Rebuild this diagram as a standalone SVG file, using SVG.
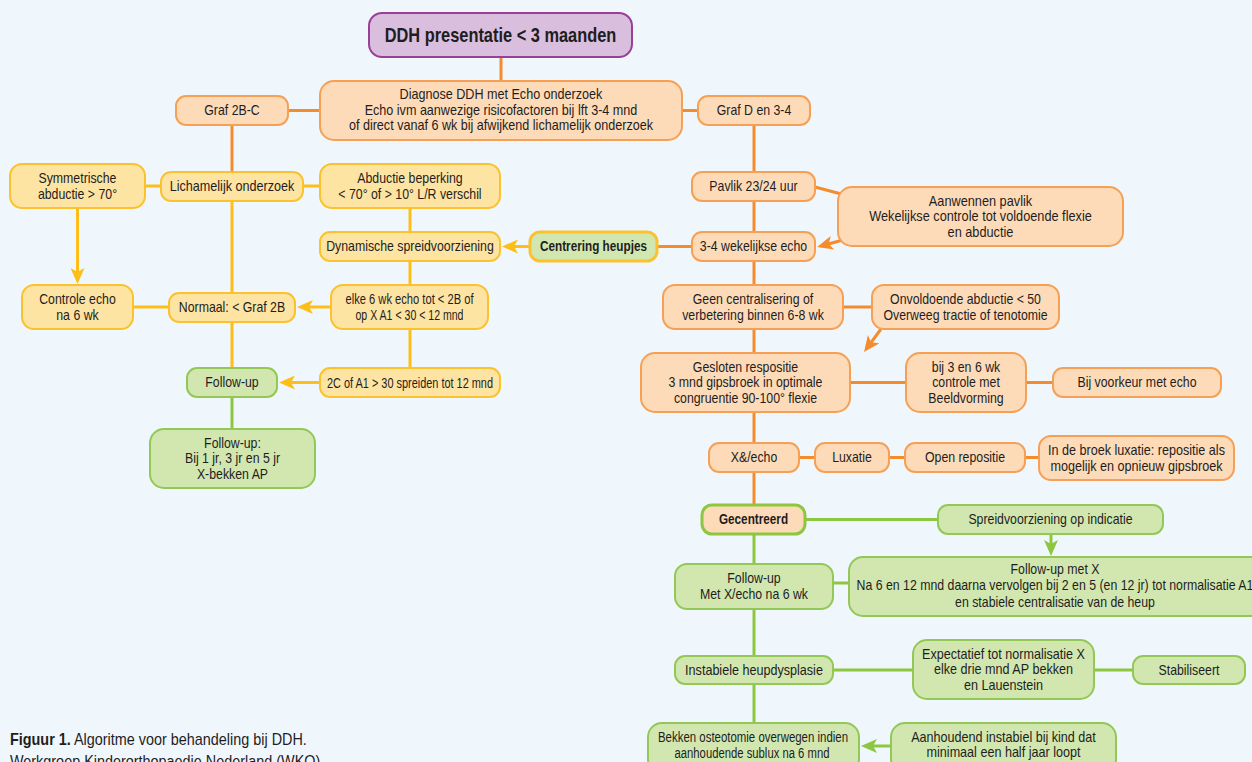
<svg xmlns="http://www.w3.org/2000/svg" width="1252" height="762" viewBox="0 0 1252 762">
<style>
text{font-family:'Liberation Sans',Arial,sans-serif;font-size:14px;fill:#1f1d1d;text-anchor:middle}
.o{fill:#FDDBB8;stroke:#F5A055;stroke-width:2}
.y{fill:#FEE4A2;stroke:#FCC22E;stroke-width:2}
.g{fill:#D2E7B0;stroke:#93C856;stroke-width:2}
.p{fill:#D9BEDD;stroke:#9A3F98;stroke-width:2}
.lo{stroke:#F48C2E;stroke-width:3;fill:none}
.ly{stroke:#FDBF17;stroke-width:3;fill:none}
.lg{stroke:#8DC63F;stroke-width:3;fill:none}
.b{font-weight:bold}
</style>
<defs>
<marker id="ao" markerUnits="userSpaceOnUse" markerWidth="16" markerHeight="14" refX="12" refY="7" orient="auto"><path d="M0,0 L16,7 L0,14 L4,7 z" fill="#F48C2E"/></marker>
<marker id="ay" markerUnits="userSpaceOnUse" markerWidth="16" markerHeight="14" refX="12" refY="7" orient="auto"><path d="M0,0 L16,7 L0,14 L4,7 z" fill="#FDBF17"/></marker>
<marker id="ag" markerUnits="userSpaceOnUse" markerWidth="16" markerHeight="14" refX="12" refY="7" orient="auto"><path d="M0,0 L16,7 L0,14 L4,7 z" fill="#8DC63F"/></marker>
</defs>
<rect width="1252" height="762" fill="#EFF7FD"/>
<g id="connectors">
<path class="lo" d="M501,57V81"/>
<path class="lo" d="M288,110.5H320"/>
<path class="lo" d="M682,110.5H698"/>
<path class="lo" d="M232,125V172"/>
<path class="lo" d="M754,125V172"/>
<path class="lo" d="M754,201V232"/>
<path class="lo" d="M815,187L845,195"/>
<path class="lo" d="M843,240L821,246" marker-end="url(#ao)"/>
<path class="lo" d="M692,246.5H657"/>
<path class="lo" d="M754,261V285"/>
<path class="lo" d="M843,307H872"/>
<path class="lo" d="M881,329L866.4,348.8" marker-end="url(#ao)"/>
<path class="lo" d="M754,329V353"/>
<path class="lo" d="M850,382.5H906"/>
<path class="lo" d="M1026,382.5H1053"/>
<path class="lo" d="M754,412V443"/>
<path class="lo" d="M799,457.5H815"/>
<path class="lo" d="M889,457.5H905"/>
<path class="lo" d="M1025,457.5H1039"/>
<path class="lo" d="M754,472V505"/>
<path class="lg" d="M805,519.5H938"/>
<path class="lg" d="M1051,534V552" marker-end="url(#ag)"/>
<path class="lg" d="M754,534V564"/>
<path class="lg" d="M833,583H849"/>
<path class="lg" d="M754,609V656"/>
<path class="lg" d="M833,670H913"/>
<path class="lg" d="M1094,670H1133"/>
<path class="lg" d="M754,684V723"/>
<path class="lg" d="M891,746H865" marker-end="url(#ag)"/>
<path class="lg" d="M232,397V429"/>
<path class="ly" d="M145,186H161"/>
<path class="ly" d="M303,186H320"/>
<path class="ly" d="M77.5,208V280" marker-end="url(#ay)"/>
<path class="ly" d="M232,201V293"/>
<path class="ly" d="M133,307H169"/>
<path class="ly" d="M410,208V232"/>
<path class="ly" d="M530,246.5H506" marker-end="url(#ay)"/>
<path class="ly" d="M410,261V285"/>
<path class="ly" d="M331,307H301" marker-end="url(#ay)"/>
<path class="ly" d="M410,329V368"/>
<path class="ly" d="M320,382.5H283" marker-end="url(#ay)"/>
<path class="ly" d="M232,321V368"/>
</g>
<g id="title"><rect class="p" x="369" y="13" width="263" height="44" rx="13"/><text class="b" x="500.5" y="42" style="font-size:20px" transform="matrix(0.82,0,0,1,90.09,0)">DDH presentatie &lt; 3 maanden</text></g>
<g id="diag"><rect class="o" x="320" y="81" width="362" height="59" rx="14"/><g transform="matrix(0.9,0,0,1,50.1,0)"><text x="501" y="99.5">Diagnose DDH met Echo onderzoek</text><text x="501" y="115">Echo ivm aanwezige risicofactoren bij lft 3-4 mnd</text><text x="501" y="130.5">of direct vanaf 6 wk bij afwijkend lichamelijk onderzoek</text></g></g>
<g id="graf2bc"><rect class="o" x="176" y="96" width="112" height="29" rx="10"/><text x="232" y="115.5" transform="matrix(0.88,0,0,1,27.84,0)">Graf 2B-C</text></g>
<g id="grafD"><rect class="o" x="698" y="96" width="112" height="29" rx="10"/><text x="754" y="115.5" transform="matrix(0.88,0,0,1,90.48,0)">Graf D en 3-4</text></g>
<g id="symm"><rect class="y" x="10" y="164" width="135" height="44" rx="12"/><g transform="matrix(0.88,0,0,1,9.3,0)"><text x="77.5" y="183">Symmetrische</text><text x="77.5" y="199">abductie &gt; 70°</text></g></g>
<g id="lich"><rect class="y" x="161" y="172" width="142" height="29" rx="10"/><text x="232" y="191.5" transform="matrix(0.9,0,0,1,23.2,0)">Lichamelijk onderzoek</text></g>
<g id="abd"><rect class="y" x="320" y="164" width="180" height="44" rx="12"/><g transform="matrix(0.88,0,0,1,49.2,0)"><text x="410" y="183">Abductie beperking</text><text x="410" y="199">&lt; 70° of &gt; 10° L/R verschil</text></g></g>
<g id="pavlik"><rect class="o" x="692" y="172" width="123" height="29" rx="10"/><text x="753.5" y="191.5" transform="matrix(0.88,0,0,1,90.42,0)">Pavlik 23/24 uur</text></g>
<g id="aanw"><rect class="o" x="838" y="187" width="285" height="59" rx="14"/><g transform="matrix(0.91,0,0,1,88.245,0)"><text x="980.5" y="206">Aanwennen pavlik</text><text x="980.5" y="221.5">Wekelijkse controle tot voldoende flexie</text><text x="980.5" y="237">en abductie</text></g></g>
<g id="dyn"><rect class="y" x="320" y="232" width="180" height="29" rx="10"/><text x="410" y="251.5" transform="matrix(0.88,0,0,1,49.2,0)">Dynamische spreidvoorziening</text></g>
<g id="centr"><rect x="530" y="232" width="127" height="29" rx="10" fill="#D2E7B0" stroke="#FCC22E" stroke-width="3"/><text class="b" x="593.5" y="251.5" transform="matrix(0.84,0,0,1,94.96,0)">Centrering heupjes</text></g>
<g id="echo34"><rect class="o" x="692" y="232" width="123" height="29" rx="10"/><text x="753.5" y="251.5" transform="matrix(0.88,0,0,1,90.42,0)">3-4 wekelijkse echo</text></g>
<g id="controle"><rect class="y" x="22" y="285" width="111" height="44" rx="12"/><g transform="matrix(0.88,0,0,1,9.3,0)"><text x="77.5" y="304">Controle echo</text><text x="77.5" y="320">na 6 wk</text></g></g>
<g id="normaal"><rect class="y" x="169" y="293" width="126" height="29" rx="10"/><text x="232" y="312.5" transform="matrix(0.88,0,0,1,27.84,0)">Normaal: &lt; Graf 2B</text></g>
<g id="elke"><rect class="y" x="331" y="285" width="157" height="44" rx="12"/><text x="409.5" y="304" textLength="128" lengthAdjust="spacingAndGlyphs">elke 6 wk echo tot &lt; 2B of</text><text x="409.5" y="320" textLength="108" lengthAdjust="spacingAndGlyphs">op X A1 &lt; 30 &lt; 12 mnd</text></g>
<g id="geen"><rect class="o" x="663" y="285" width="180" height="44" rx="12"/><g transform="matrix(0.88,0,0,1,90.36,0)"><text x="753" y="304">Geen centralisering of</text><text x="753" y="320">verbetering binnen 6-8 wk</text></g></g>
<g id="onv"><rect class="o" x="872" y="285" width="187" height="44" rx="12"/><g transform="matrix(0.88,0,0,1,115.86,0)"><text x="965.5" y="304">Onvoldoende abductie &lt; 50</text><text x="965.5" y="320">Overweeg tractie of tenotomie</text></g></g>
<g id="gesl"><rect class="o" x="641" y="353" width="209" height="59" rx="14"/><g transform="matrix(0.88,0,0,1,89.46,0)"><text x="745.5" y="372">Gesloten respositie</text><text x="745.5" y="387.5">3 mnd gipsbroek in optimale</text><text x="745.5" y="403">congruentie 90-100° flexie</text></g></g>
<g id="bij36"><rect class="o" x="906" y="353" width="120" height="59" rx="14"/><g transform="matrix(0.88,0,0,1,115.92,0)"><text x="966" y="372">bij 3 en 6 wk</text><text x="966" y="387.5">controle met</text><text x="966" y="403">Beeldvorming</text></g></g>
<g id="bijvk"><rect class="o" x="1053" y="368" width="168" height="29" rx="10"/><text x="1137" y="387.5" transform="matrix(0.88,0,0,1,136.44,0)">Bij voorkeur met echo</text></g>
<g id="fu1"><rect class="g" x="187" y="368" width="90" height="29" rx="10"/><text x="232" y="387.5" transform="matrix(0.88,0,0,1,27.84,0)">Follow-up</text></g>
<g id="c2"><rect class="y" x="320" y="368" width="180" height="29" rx="10"/><text x="410" y="387.5" textLength="166" lengthAdjust="spacingAndGlyphs">2C of A1 &gt; 30 spreiden tot 12 mnd</text></g>
<g id="fu2"><rect class="g" x="150" y="429" width="165" height="59" rx="14"/><g transform="matrix(0.88,0,0,1,27.9,0)"><text x="232.5" y="448">Follow-up:</text><text x="232.5" y="463.5">Bij 1 jr, 3 jr en 5 jr</text><text x="232.5" y="479">X-bekken AP</text></g></g>
<g id="xecho"><rect class="o" x="709" y="443" width="90" height="29" rx="10"/><text x="754" y="462.5" transform="matrix(0.88,0,0,1,90.48,0)">X&amp;/echo</text></g>
<g id="lux"><rect class="o" x="815" y="443" width="74" height="29" rx="10"/><text x="852" y="462.5" transform="matrix(0.88,0,0,1,102.24,0)">Luxatie</text></g>
<g id="openr"><rect class="o" x="905" y="443" width="120" height="29" rx="10"/><text x="965" y="462.5" transform="matrix(0.88,0,0,1,115.8,0)">Open repositie</text></g>
<g id="broek"><rect class="o" x="1039" y="436" width="195" height="44" rx="12"/><g transform="matrix(0.9,0,0,1,113.65,0)"><text x="1136.5" y="455">In de broek luxatie: repositie als</text><text x="1136.5" y="471">mogelijk en opnieuw gipsbroek</text></g></g>
<g id="gecen"><rect x="702" y="505" width="103" height="29" rx="10" fill="#FDDBB8" stroke="#8DC63F" stroke-width="3"/><text class="b" x="753.5" y="524.5" transform="matrix(0.84,0,0,1,120.56,0)">Gecentreerd</text></g>
<g id="spreid"><rect class="g" x="938" y="505" width="225" height="29" rx="10"/><text x="1050.5" y="524.5" transform="matrix(0.88,0,0,1,126.06,0)">Spreidvoorziening op indicatie</text></g>
<g id="fuXecho"><rect class="g" x="675" y="564" width="158" height="45" rx="12"/><g transform="matrix(0.88,0,0,1,90.48,0)"><text x="754" y="583">Follow-up</text><text x="754" y="599">Met X/echo na 6 wk</text></g></g>
<g id="fuX"><rect class="g" x="849" y="557" width="430" height="59" rx="14"/><g transform="matrix(0.88,0,0,1,126.6,0)"><text x="1055" y="574">Follow-up met X</text><text x="1055" y="590.5">Na 6 en 12 mnd daarna vervolgen bij 2 en 5 (en 12 jr) tot normalisatie A1</text><text x="1055" y="607">en stabiele centralisatie van de heup</text></g></g>
<g id="instab"><rect class="g" x="675" y="656" width="158" height="28" rx="10"/><text x="754" y="675" transform="matrix(0.9,0,0,1,75.4,0)">Instabiele heupdysplasie</text></g>
<g id="expect"><rect class="g" x="913" y="640" width="181" height="59" rx="14"/><g transform="matrix(0.9,0,0,1,100.35,0)"><text x="1003.5" y="659">Expectatief tot normalisatie X</text><text x="1003.5" y="674.5">elke drie mnd AP bekken</text><text x="1003.5" y="690">en Lauenstein</text></g></g>
<g id="stab"><rect class="g" x="1133" y="656" width="112" height="28" rx="10"/><text x="1189" y="675" transform="matrix(0.88,0,0,1,142.68,0)">Stabiliseert</text></g>
<g id="bekken"><rect class="g" x="648" y="723" width="211" height="50" rx="14"/><text x="753" y="742" textLength="190" lengthAdjust="spacingAndGlyphs">Bekken osteotomie overwegen indien</text><text x="752" y="757.5" textLength="155" lengthAdjust="spacingAndGlyphs">aanhoudende sublux na 6 mnd</text></g>
<g id="aanh"><rect class="g" x="891" y="723" width="225" height="50" rx="14"/><g transform="matrix(0.9,0,0,1,100.35,0)"><text x="1003.5" y="742">Aanhoudend instabiel bij kind dat</text><text x="1003.5" y="757.5">minimaal een half jaar loopt</text></g></g>
<g id="caption" transform="matrix(0.9,0,0,1,1,0)"><text x="10" y="745" style="text-anchor:start;font-size:16px"><tspan class="b">Figuur 1.</tspan> Algoritme voor behandeling bij DDH.</text><text x="10" y="767" style="text-anchor:start;font-size:16px">Werkgroep Kinderorthopaedie Nederland (WKO)</text></g>
</svg>
